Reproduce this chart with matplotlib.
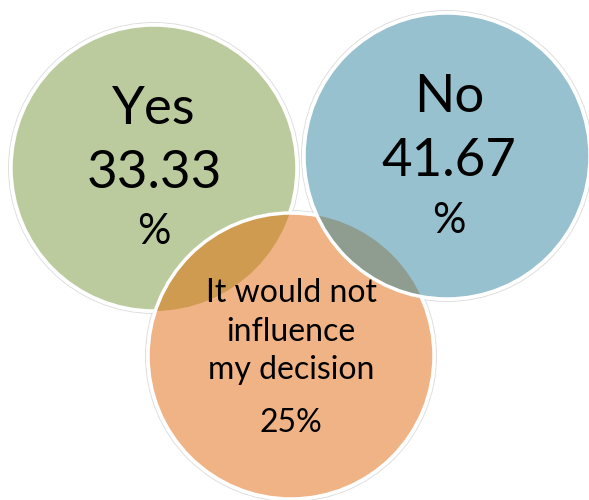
import matplotlib.pyplot as plt
from matplotlib.patches import Circle

# survey answers (percent)
labels = ["Yes", "No", "It would not\ninfluence\nmy decision"]
values = [33.33, 41.67, 25]

# circle centres / radius in pixel coords (y downwards)
centres = [(154, 168), (447, 156), (291, 356)]
radius = 143
fills = ["#BCCB9E", "#97C1CE", "#F0B385"]
overlap_go = "#CF9B51"   # yes ∩ neutral
overlap_bo = "#8E9D8F"   # no ∩ neutral

fig = plt.figure(figsize=(5.89, 5.0), dpi=100)
ax = fig.add_axes([0, 0, 1, 1])
ax.set_xlim(0, 589)
ax.set_ylim(500, 0)
ax.set_aspect("equal")
ax.axis("off")

# faint grey rim outside the white edge
for c in centres:
	ax.add_patch(Circle(c, radius + 2.5, facecolor="none", edgecolor="#DEDEDE",
						linewidth=0.7, zorder=0))

green = Circle(centres[0], radius, facecolor=fills[0], edgecolor="white", linewidth=2.5, zorder=1)
ax.add_patch(green)
orange = Circle(centres[2], radius, facecolor=fills[2], edgecolor="none", zorder=2)
ax.add_patch(orange)

# overlap yes / neutral
ov1 = Circle(centres[2], radius, facecolor=overlap_go, edgecolor="none", zorder=3)
ax.add_patch(ov1)
ov1.set_clip_path(green)
ax.add_patch(Circle(centres[2], radius, facecolor="none", edgecolor="white", linewidth=2.5, zorder=4))

blue = Circle(centres[1], radius, facecolor=fills[1], edgecolor="none", zorder=5)
ax.add_patch(blue)
ov2 = Circle(centres[1], radius, facecolor=overlap_bo, edgecolor="none", zorder=6)
ax.add_patch(ov2)
ov2.set_clip_path(orange)
ax.add_patch(Circle(centres[1], radius, facecolor="none", edgecolor="white", linewidth=2.5, zorder=7))

font = ["Lato", "DejaVu Sans"]

# Yes
ax.text(154, 110, labels[0], ha="center", va="center", fontsize=38, family=font, zorder=10)
ax.text(154, 173, f"{values[0]:.2f}", ha="center", va="center", fontsize=38, family=font, zorder=10)
ax.text(154, 232, "%", ha="center", va="center", fontsize=30, family=font, zorder=10)

# No
ax.text(449, 98, labels[1], ha="center", va="center", fontsize=38, family=font, zorder=10)
ax.text(449, 162, f"{values[1]:.2f}", ha="center", va="center", fontsize=38, family=font, zorder=10)
ax.text(449, 221, "%", ha="center", va="center", fontsize=30, family=font, zorder=10)

# neutral, one line at a time
for line, ly in zip(labels[2].split("\n"), [293, 332, 370]):
	ax.text(291, ly, line, ha="center", va="center", fontsize=23, family=font, zorder=10)
ax.text(291, 423, f"{values[2]:g}%", ha="center", va="center", fontsize=23, family=font, zorder=10)

fig.savefig("out.png", dpi=100, facecolor="white")
